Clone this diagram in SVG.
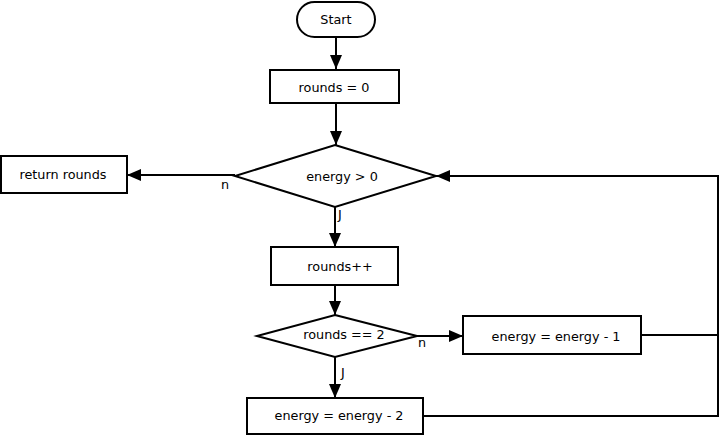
<svg xmlns="http://www.w3.org/2000/svg" width="722" height="437" viewBox="0 0 722 437">
<defs>
<marker id="ah" markerWidth="14" markerHeight="12" refX="14" refY="6" orient="auto" markerUnits="userSpaceOnUse">
<path d="M0,0 L14,6 L0,12 Z" fill="#000"/>
</marker>
<style>
.n{fill:#fff;stroke:#000;stroke-width:2}
.t{font-family:"DejaVu Sans",sans-serif;font-size:12.8px;fill:#000;text-anchor:middle;dominant-baseline:central}
.l{font-family:"DejaVu Sans",sans-serif;font-size:12.8px;fill:#000}
.c{fill:none;stroke:#000;stroke-width:2}
</style>
</defs>
<rect width="722" height="437" fill="#fff"/>
<g id="connectors">
<path class="c" d="M336,37 L336,69" marker-end="url(#ah)"/>
<path class="c" d="M336,103 L336,145" marker-end="url(#ah)"/>
<path class="c" d="M235,175 L127,175" marker-end="url(#ah)"/>
<path class="c" d="M335,207 L335,247" marker-end="url(#ah)"/>
<path class="c" d="M335,285 L335,315" marker-end="url(#ah)"/>
<path class="c" d="M417,336 L463,336" marker-end="url(#ah)"/>
<path class="c" d="M335,357 L335,398" marker-end="url(#ah)"/>
<path class="c" d="M641,335 L718,335 L718,176 L436,176" marker-end="url(#ah)"/>
<path class="c" d="M423,416 L718,416 L718,335"/>
<text class="l" x="221" y="189">n</text>
<text class="l" x="338" y="219">J</text>
<text class="l" x="418" y="347">n</text>
<text class="l" x="341" y="377">J</text>
</g>
<g id="start">
<rect class="n" x="297" y="2" width="78" height="35" rx="17.5"/>
<text class="t" x="336" y="19">Start</text>
</g>
<g id="init">
<rect class="n" x="270" y="70" width="129" height="33"/>
<text class="t" x="334" y="87">rounds = 0</text>
</g>
<g id="cond1">
<path class="n" d="M335,145 L436,176 L335,207 L235,176 Z"/>
<text class="t" x="342" y="176">energy &gt; 0</text>
</g>
<g id="ret">
<rect class="n" x="1" y="156" width="126" height="37"/>
<text class="t" x="63" y="174">return rounds</text>
</g>
<g id="inc">
<rect class="n" x="271" y="247" width="127" height="38"/>
<text class="t" x="340" y="266">rounds++</text>
</g>
<g id="cond2">
<path class="n" d="M335,315 L417,336 L335,357 L257,336 Z"/>
<text class="t" x="344" y="334">rounds == 2</text>
</g>
<g id="dec1">
<rect class="n" x="463" y="316" width="178" height="38"/>
<text class="t" x="556" y="336">energy = energy - 1</text>
</g>
<g id="dec2">
<rect class="n" x="247" y="398" width="176" height="36"/>
<text class="t" x="339" y="415">energy = energy - 2</text>
</g>
</svg>
